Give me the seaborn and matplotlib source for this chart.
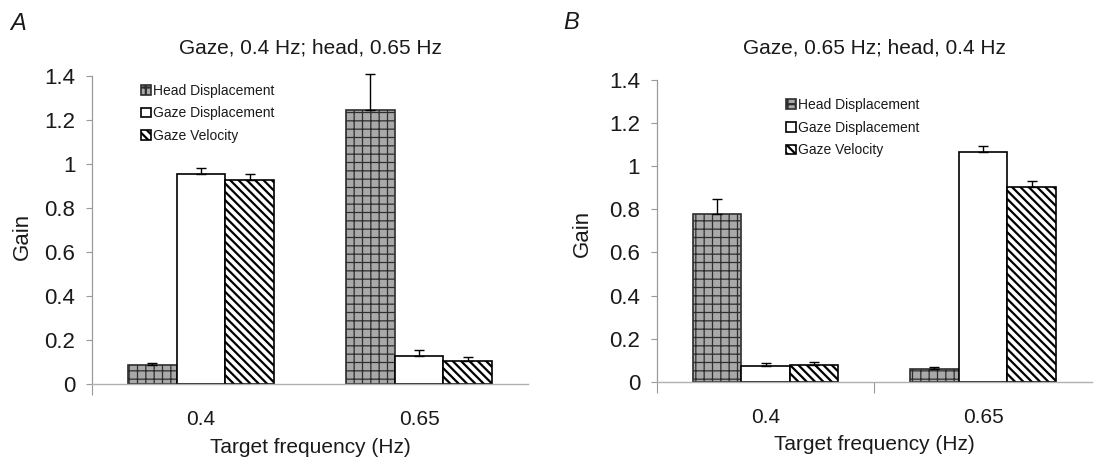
import matplotlib
matplotlib.use("Agg")
import matplotlib.pyplot as plt
import numpy as np
import pandas as pd
import seaborn as sns

# Target frequencies (categories) and the three measured gains
freqs = ["0.4", "0.65"]
measures = ["Head Displacement", "Gaze Displacement", "Gaze Velocity"]

# Panel A: gaze target at 0.4 Hz, head target at 0.65 Hz
a_head = [0.086, 1.247]
a_gaze_disp = [0.955, 0.129]
a_gaze_vel = [0.926, 0.106]
a_head_err = [0.008, 0.160]
a_gaze_disp_err = [0.025, 0.026]
a_gaze_vel_err = [0.030, 0.018]

# Panel B: gaze target at 0.65 Hz, head target at 0.4 Hz
b_head = [0.778, 0.057]
b_gaze_disp = [0.074, 1.064]
b_gaze_vel = [0.077, 0.903]
b_head_err = [0.068, 0.010]
b_gaze_disp_err = [0.014, 0.030]
b_gaze_vel_err = [0.013, 0.028]

y_ticks = [0, 0.2, 0.4, 0.6, 0.8, 1.0, 1.2, 1.4]
y_tick_labels = ["0", "0.2", "0.4", "0.6", "0.8", "1", "1.2", "1.4"]

titles = ["Gaze, 0.4 Hz; head, 0.65 Hz", "Gaze, 0.65 Hz; head, 0.4 Hz"]
panel_letters = ["A", "B"]

sns.set_style("white")
plt.rcParams["font.family"] = ["Liberation Sans", "DejaVu Sans"]
plt.rcParams["hatch.linewidth"] = 1.6
plt.rcParams["text.color"] = "#1a1a1a"
plt.rcParams["axes.labelcolor"] = "#1a1a1a"
plt.rcParams["xtick.color"] = "#1a1a1a"
plt.rcParams["ytick.color"] = "#1a1a1a"


def long_table(head, disp, vel):
    rows = []
    for m, vals in zip(measures, [head, disp, vel]):
        for f, v in zip(freqs, vals):
            rows.append({"freq": f, "measure": m, "gain": v})
    return pd.DataFrame(rows)


def draw_panel(ax, df, errs, title, legend_anchor, minor_x, title_pad):
    sns.barplot(data=df, x="freq", y="gain", hue="measure", order=freqs,
                hue_order=measures, width=0.67, palette=["#a8a8a8", "white", "white"],
                saturation=1, edgecolor="black", linewidth=1.2, errorbar=None,
                legend=False, ax=ax)

    styles = [
        dict(face="#a9a9a9", edge="#2e2e2e", hatch="++", hlw=0.9),
        dict(face="white", edge="black", hatch=None, hlw=None),
        dict(face="white", edge="black", hatch="\\\\\\\\", hlw=1.6),
    ]
    handles = []
    for container, st, err in zip(ax.containers, styles, errs):
        xs, ys = [], []
        for p in container.patches:
            p.set_facecolor(st["face"])
            p.set_edgecolor(st["edge"])
            if st["hatch"]:
                p.set_hatch(st["hatch"])
                if hasattr(p, "set_hatch_linewidth"):
                    p.set_hatch_linewidth(st["hlw"])
            xs.append(p.get_x() + p.get_width() / 2)
            ys.append(p.get_height())
        eb = ax.errorbar(xs, ys, yerr=[np.zeros(len(err)), err], fmt="none",
                         ecolor="black", elinewidth=1.0, capsize=3.5, capthick=1.0,
                         zorder=1)
        for art in eb.lines[1] + eb.lines[2]:
            art.set_clip_on(False)
        handles.append(container.patches[0])

    ax.legend(handles, measures, loc="upper left", bbox_to_anchor=legend_anchor,
              frameon=False, fontsize=10, handlelength=0.7, handleheight=0.7,
              handletextpad=0.2, labelspacing=0.62, borderpad=0, borderaxespad=0)

    ax.set_xlim(-0.5, 1.5)
    ax.set_ylim(0, 1.4)
    ax.set_yticks(y_ticks)
    ax.set_yticklabels(y_tick_labels)
    ax.set_xticks(range(len(freqs)))
    ax.set_xticklabels(freqs)
    ax.set_xticks(minor_x, minor=True)
    ax.tick_params(axis="y", labelsize=16, length=4, width=0.8, color="#999999",
                   pad=8, left=True, direction="out")
    ax.tick_params(axis="x", which="major", labelsize=15, length=0, pad=19)
    ax.tick_params(axis="x", which="minor", length=8, width=0.8, color="#999999",
                   bottom=True, direction="out")

    for side in ["top", "right"]:
        ax.spines[side].set_visible(False)
    ax.spines["left"].set_color("#9a9a9a")
    ax.spines["left"].set_linewidth(0.9)
    ax.spines["bottom"].set_color("#b0b0b0")
    ax.spines["bottom"].set_linewidth(1.0)

    ax.set_title(title, fontsize=15, pad=title_pad)
    ax.set_xlabel("Target frequency (Hz)", fontsize=15, labelpad=6)
    ax.set_ylabel("Gain", fontsize=16)


fig = plt.figure(figsize=(11.17, 4.62), dpi=100)
ax_a = fig.add_axes([0.0824, 0.1688, 0.3903, 0.6667])
ax_b = fig.add_axes([0.588, 0.1738, 0.3894, 0.6530])

draw_panel(ax_a, long_table(a_head, a_gaze_disp, a_gaze_vel),
           [a_head_err, a_gaze_disp_err, a_gaze_vel_err], titles[0],
           (0.112, 0.975), [-0.5], 16)
draw_panel(ax_b, long_table(b_head, b_gaze_disp, b_gaze_vel),
           [b_head_err, b_gaze_disp_err, b_gaze_vel_err], titles[1],
           (0.297, 0.94), [-0.5, 0.5], 19)

ax_a.yaxis.set_label_coords(-0.135, 0.48)
ax_b.yaxis.set_label_coords(-0.147, 0.49)

fig.text(0.016, 0.950, panel_letters[0], fontsize=17, style="italic",
         ha="center", va="center")
fig.text(0.511, 0.952, panel_letters[1], fontsize=17, style="italic",
         ha="center", va="center")

fig.savefig("out.png", dpi=100)
